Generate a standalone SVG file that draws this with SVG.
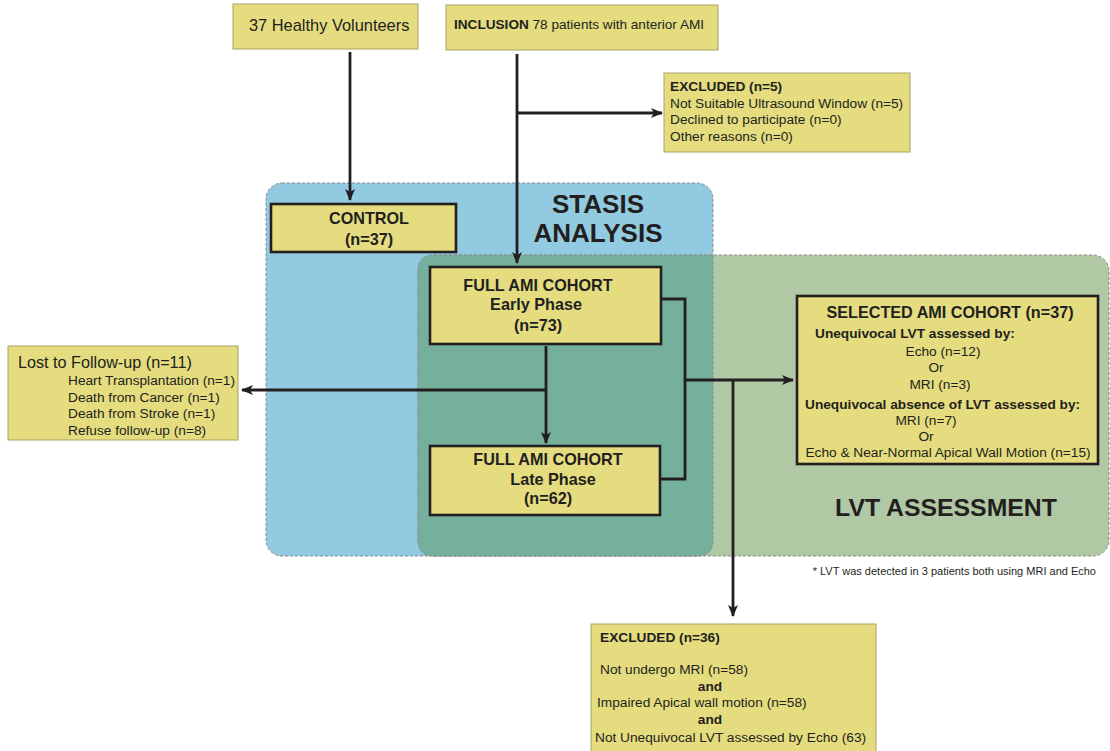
<svg xmlns="http://www.w3.org/2000/svg" width="1110" height="751" viewBox="0 0 1110 751">
<defs>
<marker id="ah" viewBox="0 0 12 10" refX="11" refY="5" markerWidth="12" markerHeight="10" markerUnits="userSpaceOnUse" orient="auto">
<path d="M0,0 L12,5 L0,10 L3,5 Z" fill="#231f20"/>
</marker>
<style>
text{font-family:"Liberation Sans",Arial,sans-serif;fill:#231f20}
.b{font-weight:bold}
.thin{fill:#e4dc7e;stroke:#a9a266;stroke-width:1}
.thick{fill:#e4dc7e;stroke:#231f20;stroke-width:2.6}
.con{fill:none;stroke:#231f20;stroke-width:2.8}
.reg{stroke:#8a8a8a;stroke-width:1;stroke-dasharray:3,2}
.s{font-size:13.7px}
.h{font-size:16.2px;font-weight:bold}
</style>
</defs>
<g id="regions">
<rect x="266" y="183" width="447" height="373" rx="16" fill="#92cbe1" class="reg"/>
<rect x="418" y="255" width="691" height="301" rx="16" fill="#b1c8a4" class="reg"/>
<path d="M434,255 H713 V540 Q713,556 697,556 H434 Q418,556 418,540 V271 Q418,255 434,255 Z" fill="#74b09c"/>
<path d="M418,540 V271 Q418,255 434,255 H713 V540 Q713,556 697,556 H434 Q418,556 418,540" class="reg" fill="none"/>
<text x="598" y="213" font-size="26" class="b" text-anchor="middle">STASIS</text>
<text x="598" y="242" font-size="26" class="b" text-anchor="middle">ANALYSIS</text>
<text x="946" y="516" font-size="24.8" class="b" text-anchor="middle">LVT ASSESSMENT</text>
</g>
<g id="connectors">
<path d="M350,52 V200" class="con" marker-end="url(#ah)"/>
<path d="M517,54 V263" class="con" marker-end="url(#ah)"/>
<path d="M517,113 H662" class="con" marker-end="url(#ah)"/>
<path d="M546,346 V443" class="con" marker-end="url(#ah)"/>
<path d="M546,390 H242" class="con" marker-end="url(#ah)"/>
<path d="M661,299 H685 V479 H660" class="con"/>
<path d="M685,380 H793" class="con" marker-end="url(#ah)"/>
<path d="M733,380 V616" class="con" marker-end="url(#ah)"/>
</g>
<g id="healthy">
<rect x="233" y="4" width="185" height="45" class="thin"/>
<text x="249" y="31" font-size="16.4">37 Healthy Volunteers</text>
</g>
<g id="inclusion">
<rect x="446" y="5" width="272" height="45" class="thin"/>
<text x="454" y="29" font-size="13.6"><tspan class="b">INCLUSION</tspan> 78 patients with anterior AMI</text>
</g>
<g id="excluded5">
<rect x="664" y="73" width="246" height="79" class="thin"/>
<text x="670" y="91" class="s b">EXCLUDED (n=5)</text>
<text x="670" y="108" class="s">Not Suitable Ultrasound Window (n=5)</text>
<text x="670" y="124" class="s">Declined to participate (n=0)</text>
<text x="670" y="141" class="s">Other reasons (n=0)</text>
</g>
<g id="control">
<rect x="271" y="204" width="185" height="48" class="thick"/>
<text x="369" y="224" class="h" text-anchor="middle">CONTROL</text>
<text x="369" y="245" class="h" text-anchor="middle">(n=37)</text>
</g>
<g id="early">
<rect x="430" y="267" width="231" height="77" class="thick"/>
<text x="538" y="291" class="h" text-anchor="middle">FULL AMI COHORT</text>
<text x="536" y="310" class="h" text-anchor="middle">Early Phase</text>
<text x="538" y="331" class="h" text-anchor="middle">(n=73)</text>
</g>
<g id="late">
<rect x="430" y="446" width="230" height="69" class="thick"/>
<text x="548" y="465" class="h" text-anchor="middle">FULL AMI COHORT</text>
<text x="553" y="485" class="h" text-anchor="middle">Late Phase</text>
<text x="548" y="504" class="h" text-anchor="middle">(n=62)</text>
</g>
<g id="lost">
<rect x="8" y="346" width="230" height="94" class="thin"/>
<text x="18" y="368" font-size="16.2">Lost to Follow-up (n=11)</text>
<text x="68" y="385" class="s">Heart Transplantation (n=1)</text>
<text x="68" y="402" class="s">Death from Cancer (n=1)</text>
<text x="68" y="418" class="s">Death from Stroke (n=1)</text>
<text x="68" y="435" class="s">Refuse follow-up (n=8)</text>
</g>
<g id="selected">
<rect x="797" y="296" width="301" height="168" class="thick"/>
<text x="950" y="318" class="h" text-anchor="middle">SELECTED AMI COHORT (n=37)</text>
<text x="815" y="338" class="s b">Unequivocal LVT assessed by:</text>
<text x="943" y="356" class="s" text-anchor="middle">Echo (n=12)</text>
<text x="936" y="372" class="s" text-anchor="middle">Or</text>
<text x="940" y="389" class="s" text-anchor="middle">MRI (n=3)</text>
<text x="805" y="409" class="s b">Unequivocal absence of LVT assessed by:</text>
<text x="926" y="425" class="s" text-anchor="middle">MRI (n=7)</text>
<text x="926" y="441" class="s" text-anchor="middle">Or</text>
<text x="948" y="457" class="s" text-anchor="middle">Echo &amp; Near-Normal Apical Wall Motion (n=15)</text>
</g>
<g id="footnote">
<text x="1096" y="575" font-size="11" text-anchor="end">* LVT was detected in 3 patients both using MRI and Echo</text>
</g>
<g id="excluded36">
<rect x="591" y="624" width="285" height="130" class="thin"/>
<text x="600" y="642" class="s b">EXCLUDED (n=36)</text>
<text x="600" y="674" class="s">Not undergo MRI (n=58)</text>
<text x="710" y="691" class="s b" text-anchor="middle">and</text>
<text x="597" y="707" class="s">Impaired Apical wall motion (n=58)</text>
<text x="710" y="724" class="s b" text-anchor="middle">and</text>
<text x="595" y="742" class="s">Not Unequivocal LVT assessed by Echo (63)</text>
</g>
</svg>
